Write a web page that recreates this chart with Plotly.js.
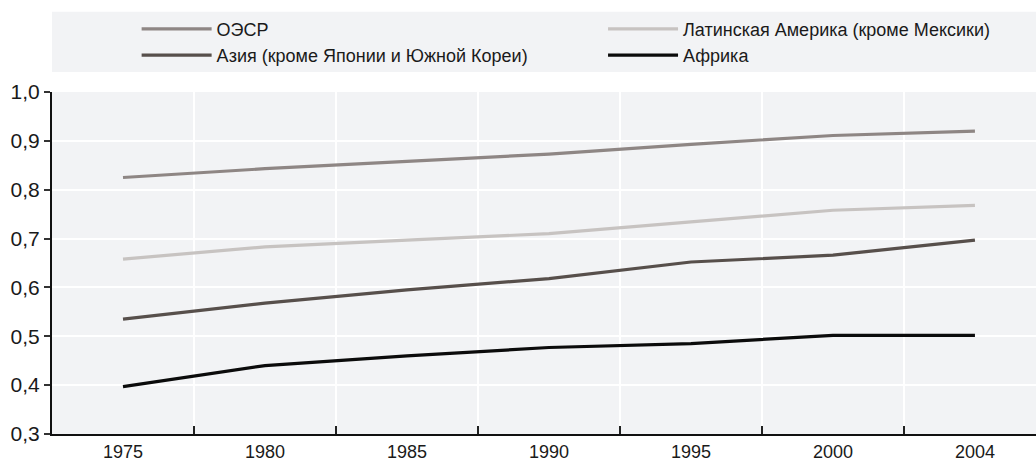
<!DOCTYPE html>
<html>
<head>
<meta charset="utf-8">
<script src="https://cdn.plot.ly/plotly-3.0.1.min.js"></script>
<style>html,body{margin:0;padding:0;background:#fff;}#chart{width:1036px;height:464px;}</style>
</head>
<body>
<div id="chart"></div>
<script>
const years = ["1975", "1980", "1985", "1990", "1995", "2000", "2004"];
const seriesNames = ["ОЭСР", "Азия (кроме Японии и Южной Кореи)", "Латинская Америка (кроме Мексики)", "Африка"];
const oecd = [0.825, 0.843, 0.858, 0.873, 0.893, 0.911, 0.920];
const asia = [0.535, 0.568, 0.595, 0.618, 0.652, 0.666, 0.697];
const latam = [0.658, 0.683, 0.697, 0.710, 0.734, 0.758, 0.768];
const africa = [0.397, 0.440, 0.460, 0.477, 0.485, 0.502, 0.502];
const yTicks = [0.3, 0.4, 0.5, 0.6, 0.7, 0.8, 0.9, 1.0];

const colors = ["#8e8684", "#574f4b", "#c7c3c1", "#0b0b0b"];
const values = [oecd, asia, latam, africa];
const legendIds = ["legend", "legend", "legend2", "legend2"];

const traces = values.map((v, i) => ({
  type: "scatter",
  mode: "lines",
  x: years,
  y: v,
  name: seriesNames[i],
  legend: legendIds[i],
  line: {color: colors[i], width: 3.2},
  hoverinfo: "skip"
}));

const legendCommon = {
  orientation: "v",
  bgcolor: "rgba(0,0,0,0)",
  font: {family: "Liberation Sans, Arial, sans-serif", size: 18, color: "#1a1a1a"},
  itemwidth: 70,
  tracegroupgap: 0,
  yanchor: "top",
  xanchor: "left",
  y: 1.238
};

const layout = {
  width: 1036,
  height: 464,
  margin: {l: 52, r: 0, t: 92, b: 30},
  paper_bgcolor: "#ffffff",
  plot_bgcolor: "#f2f3f5",
  separators: ",",
  showlegend: true,
  legend: Object.assign({}, legendCommon, {x: 0.086}),
  legend2: Object.assign({}, legendCommon, {x: 0.560}),
  xaxis: {
    type: "category",
    range: [-0.5, 6.43],
    tickson: "boundaries",
    ticks: "inside",
    ticklen: 8,
    tickwidth: 1.5,
    tickcolor: "#222",
    showgrid: true,
    gridcolor: "#ffffff",
    gridwidth: 2,
    showline: true,
    linecolor: "#111",
    linewidth: 2,
    zeroline: false,
    tickfont: {family: "Liberation Sans Narrow, Arial Narrow, Liberation Sans, sans-serif", size: 18, color: "#1a1a1a"},
    automargin: false,
    fixedrange: true
  },
  yaxis: {
    range: [0.3, 1.0],
    tickvals: yTicks,
    tickformat: ".1f",
    ticks: "outside",
    ticklen: 6,
    tickwidth: 2,
    tickcolor: "#333",
    showgrid: true,
    gridcolor: "#ffffff",
    gridwidth: 2,
    showline: true,
    linecolor: "#111",
    linewidth: 2,
    zeroline: false,
    tickfont: {family: "Liberation Sans, Arial, sans-serif", size: 21, color: "#1a1a1a"},
    automargin: false,
    fixedrange: true
  },
  shapes: [{
    type: "rect", xref: "paper", yref: "paper", layer: "below",
    x0: 0, x1: 1, y0: 1.0586, y1: 1.2343,
    fillcolor: "#f2f3f5", line: {width: 0}
  }]
};

Plotly.newPlot("chart", traces, layout, {displayModeBar: false, staticPlot: true});
</script>
</body>
</html>
